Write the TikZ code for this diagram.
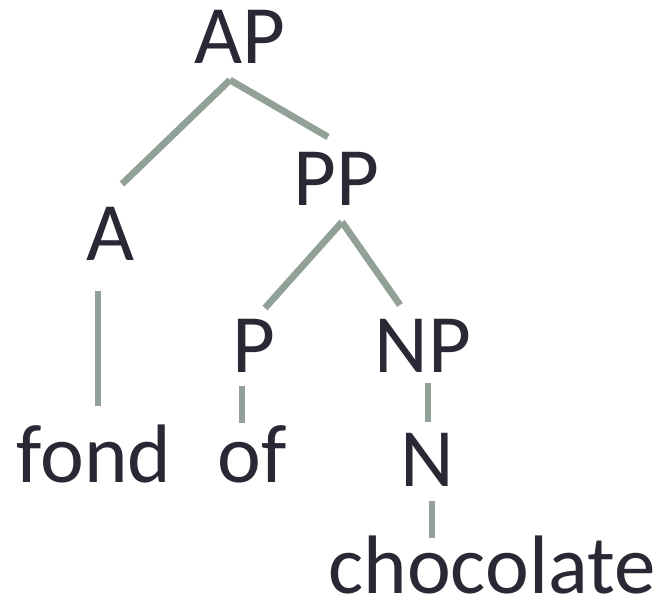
\documentclass[tikz,border=0pt]{standalone}
\usepackage{fontspec}
\setmainfont{Carlito}
\definecolor{labelink}{RGB}{41,41,53}
\definecolor{branch}{RGB}{145,161,151}
\begin{document}
\begin{tikzpicture}[x=1pt,y=-1pt,
  cat/.style={anchor=base,inner sep=0pt,text=labelink,font=\fontsize{83}{90}\selectfont},
  edge/.style={draw=branch,line width=6.8pt,line cap=butt}]
\useasboundingbox (0,0) rectangle (664,598);

% labels of the tree
\node[cat] (AP) at (240,63) {AP};
\node[cat] (PP) at (336,205) {PP};
\node[cat] (A) at (110.5,260) {A};
\node[cat] (P) at (253.5,372) {P};
\node[cat] (NP) at (423,372) {NP};
\node[cat] (fond) at (94,482) {fond};
\node[cat] (of) at (252,482) {of};
\node[cat] (N) at (427.5,486) {N};
\node[cat] (chocolate) at (492,593) {chocolate};

% branch end points
\coordinate (AP-f) at (230,80);
\coordinate (A-h) at (122,184);
\coordinate (PP-h) at (328,137);
\coordinate (PP-f) at (342,222);
\coordinate (P-h) at (265,308);
\coordinate (NP-h) at (400,305);
\coordinate (A-f) at (98,291);
\coordinate (fond-h) at (98,406);
\coordinate (P-f) at (242,386);
\coordinate (of-h) at (242,423);
\coordinate (NP-f) at (428,383);
\coordinate (N-h) at (428,422);
\coordinate (N-f) at (432,501);
\coordinate (chocolate-h) at (432,538);

% branches
\draw[edge] (AP-f) -- (A-h);
\draw[edge] (AP-f) -- (PP-h);
\draw[edge] (PP-f) -- (P-h);
\draw[edge] (PP-f) -- (NP-h);
\draw[edge] (A-f) -- (fond-h);
\draw[edge] (P-f) -- (of-h);
\draw[edge] (NP-f) -- (N-h);
\draw[edge] (N-f) -- (chocolate-h);
\end{tikzpicture}
\end{document}
